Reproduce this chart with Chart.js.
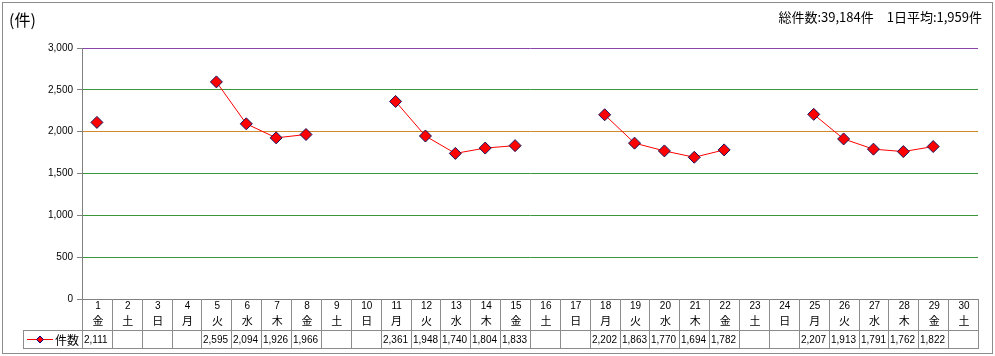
<!DOCTYPE html>
<html><head><meta charset="utf-8">
<script src="https://cdn.jsdelivr.net/npm/chart.js@4"></script>
<style>html,body{margin:0;padding:0;background:#fff}#wrap{width:995px;height:356px}</style>
</head><body><div id="wrap"><canvas id="c" width="995" height="356"></canvas></div>
<script>
const days = ['1','2','3','4','5','6','7','8','9','10','11','12','13','14','15','16','17','18','19','20','21','22','23','24','25','26','27','28','29','30'];
const weekdays = ['金','土','日','月','火','水','木','金','土','日','月','火','水','木','金','土','日','月','火','水','木','金','土','日','月','火','水','木','金','土'];
const counts = [2111,null,null,null,2595,2094,1926,1966,null,null,2361,1948,1740,1804,1833,null,null,2202,1863,1770,1694,1782,null,null,2207,1913,1791,1762,1822,null];
const seriesName = '件数';
const unitLabel = '(件)';
const summaryText = '総件数:39,184件　1日平均:1,959件';
const yTicks = [0,500,1000,1500,2000,2500,3000];

const fmt = v => v.toString().replace(/\B(?=(\d{3})+(?!\d))/g, ',');
const JP = '"Noto Sans CJK JP", sans-serif';
const NUM = '"Liberation Sans", Arial, sans-serif';
const gridColors = ['#808080','#3a963a','#3a963a','#3a963a','#d08a2c','#3a963a','#8a44aa'];

const tablePlugin = {
  id: 'tablePlugin',
  afterDraw(chart) {
    const ctx = chart.ctx;
    const xs = chart.scales.x;
    const area = chart.chartArea;
    const n = days.length;
    const w = (xs.getPixelForValue(1) - xs.getPixelForValue(0));
    const top = area.bottom, rowSplit = 330, bottom = 348, legendLeft = 23;
    ctx.save();
    ctx.strokeStyle = '#8c8c8c';
    ctx.lineWidth = 1;
    ctx.strokeRect(2.5, 2.5, 990, 351);
    ctx.beginPath();
    for (let i = 0; i <= n; i++) {
      const x = Math.round(xs.getPixelForValue(i) - w / 2) + 0.5;
      ctx.moveTo(x, top); ctx.lineTo(x, bottom);
    }
    const right = Math.round(xs.getPixelForValue(n - 1) + w / 2) + 1;
    ctx.moveTo(legendLeft + 0.5, rowSplit); ctx.lineTo(legendLeft + 0.5, bottom);
    ctx.moveTo(legendLeft, rowSplit + 0.5); ctx.lineTo(right, rowSplit + 0.5);
    ctx.moveTo(legendLeft, bottom + 0.5); ctx.lineTo(right, bottom + 0.5);
    ctx.stroke();
    ctx.fillStyle = '#000';
    ctx.textBaseline = 'middle';
    for (let i = 0; i < n; i++) {
      const cx = xs.getPixelForValue(i);
      ctx.textAlign = 'center';
      ctx.font = '10px ' + NUM;
      ctx.fillText(days[i], cx + 1, 306);
      ctx.font = '11px ' + JP;
      ctx.fillText(weekdays[i], cx + 1, 321);
      if (counts[i] != null) {
        ctx.textAlign = 'left';
        ctx.font = '10px ' + NUM;
        ctx.fillText(fmt(counts[i]), Math.round(cx - w / 2) + 2, 340);
      }
    }
    ctx.strokeStyle = '#ff0000';
    ctx.beginPath(); ctx.moveTo(27, 339.5); ctx.lineTo(53, 339.5); ctx.stroke();
    ctx.fillStyle = '#ff0000'; ctx.strokeStyle = '#000080';
    ctx.beginPath(); ctx.moveTo(40, 336); ctx.lineTo(43.5, 339.5); ctx.lineTo(40, 343); ctx.lineTo(36.5, 339.5); ctx.closePath(); ctx.fill(); ctx.stroke();
    ctx.fillStyle = '#000';
    ctx.textAlign = 'left';
    ctx.font = '12px ' + JP;
    ctx.fillText(seriesName, 55, 340);
    ctx.font = '16px ' + JP;
    ctx.fillText(unitLabel, 9, 20);
    ctx.font = '13px ' + JP;
    ctx.textAlign = 'right';
    ctx.fillText(summaryText, 982, 17);
    ctx.restore();
  }
};

new Chart(document.getElementById('c'), {
  type: 'line',
  data: {
    labels: days,
    datasets: [{
      label: seriesName,
      data: counts,
      borderColor: '#ff0000',
      borderWidth: 1,
      backgroundColor: '#ff0000',
      pointStyle: 'rectRot',
      pointRadius: 6,
      pointBorderColor: '#14145e',
      pointBorderWidth: 1,
      pointBackgroundColor: '#ff0000',
      spanGaps: false,
      tension: 0
    }]
  },
  options: {
    responsive: false,
    animation: false,
    devicePixelRatio: 1,
    layout: { padding: { left: 0, right: 17, top: 48, bottom: 7 } },
    plugins: { legend: { display: false }, tooltip: { enabled: false } },
    scales: {
      x: {
        type: 'category',
        offset: true,
        grid: { display: false },
        border: { display: false },
        ticks: { display: false },
        afterFit(s) { s.height = 50; }
      },
      y: {
        min: 0, max: 3000,
        afterBuildTicks(s) { s.ticks = yTicks.map(v => ({ value: v })); },
        grid: {
          color: gridColors,
          tickColor: '#808080',
          tickLength: 5,
          lineWidth: 1
        },
        border: { color: '#808080' },
        ticks: {
          color: '#000',
          font: { family: NUM, size: 10 },
          padding: 4,
          callback: v => fmt(v)
        },
        afterFit(s) { s.width = 82; }
      }
    }
  },
  plugins: [tablePlugin]
});
</script>
</body></html>
